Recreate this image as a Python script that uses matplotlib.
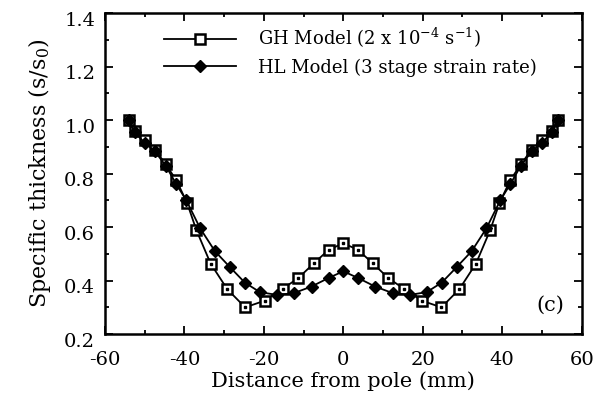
import matplotlib
matplotlib.use("Agg")

import matplotlib.pyplot as plt
from matplotlib.ticker import MultipleLocator, FormatStrFormatter
from matplotlib.transforms import ScaledTranslation

# Right half of each curve (profile is symmetric about the pole)
gh_x_half = [0, 3.7, 7.4, 11.3, 15.2, 19.8, 24.7, 29.2, 33.4, 37.0,
             39.3, 42.0, 44.7, 47.4, 50.0, 52.5, 54.0]
gh_y_half = [0.54, 0.515, 0.465, 0.41, 0.37, 0.325, 0.30, 0.368, 0.464, 0.59,
             0.69, 0.775, 0.835, 0.89, 0.925, 0.96, 1.0]

hl_x_half = [0, 3.7, 8.0, 12.5, 16.8, 21.0, 24.8, 28.5, 32.3, 36.0,
             39.5, 42.0, 44.7, 47.5, 50.0, 52.5, 54.0]
hl_y_half = [0.435, 0.41, 0.378, 0.353, 0.347, 0.357, 0.393, 0.45, 0.51, 0.595,
             0.70, 0.76, 0.83, 0.885, 0.915, 0.955, 1.0]

gh_x = [-v for v in gh_x_half[:0:-1]] + gh_x_half
gh_y = gh_y_half[:0:-1] + gh_y_half
hl_x = [-v for v in hl_x_half[:0:-1]] + hl_x_half
hl_y = hl_y_half[:0:-1] + hl_y_half

plt.rcParams["font.family"] = ["DejaVu Serif"]
plt.rcParams["mathtext.fontset"] = "dejavuserif"
plt.rcParams["axes.unicode_minus"] = False

fig = plt.figure(figsize=(5.96, 4.12), dpi=100)
ax = fig.add_axes([0.176, 0.189, 0.8, 0.779])

ax.plot(gh_x, gh_y, color="black", lw=1.3, marker="s", markersize=7,
        markerfacecolor="white", markeredgecolor="black", markeredgewidth=1.8,
        label=r"GH Model (2 x 10$^{-4}$ s$^{-1}$)")
ax.plot(gh_x, gh_y, ls="none", marker="s", markersize=1.6, color="black")
ax.plot(hl_x, hl_y, color="black", lw=1.3, marker="D", markersize=6,
        markerfacecolor="black", markeredgecolor="black",
        label="HL Model (3 stage strain rate)")

ax.set_xlim(-60, 60)
ax.set_ylim(0.2, 1.4)
ax.xaxis.set_major_locator(MultipleLocator(20))
ax.xaxis.set_minor_locator(MultipleLocator(10))
ax.yaxis.set_major_locator(MultipleLocator(0.2))
ax.yaxis.set_minor_locator(MultipleLocator(0.1))
ax.yaxis.set_major_formatter(FormatStrFormatter("%.1f"))

ax.tick_params(which="both", direction="in", top=True, right=True,
               labelsize=14, width=1.3)
ax.tick_params(which="major", length=6)
ax.tick_params(which="minor", length=3)
ax.tick_params(axis="x", pad=12)
ax.tick_params(axis="y", pad=7)
for s in ax.spines.values():
    s.set_linewidth(1.8)

# y tick labels sit a little below their ticks in the original
shift = ScaledTranslation(0, -4 / 72, fig.dpi_scale_trans)
for lab in ax.get_yticklabels():
    lab.set_transform(lab.get_transform() + shift)

ax.set_xlabel("Distance from pole (mm)", fontsize=15, labelpad=2)
ax.set_ylabel("Specific thickness (s/s$_0$)", fontsize=16, labelpad=8)

ax.legend(loc="upper left", bbox_to_anchor=(0.09, 1.01), frameon=False,
          numpoints=1, handlelength=4.0, fontsize=13, labelspacing=0.45,
          handletextpad=1.2)

ax.text(0.935, 0.09, "(c)", transform=ax.transAxes, fontsize=15,
        ha="center", va="center")

fig.savefig("out.png", dpi=100)
